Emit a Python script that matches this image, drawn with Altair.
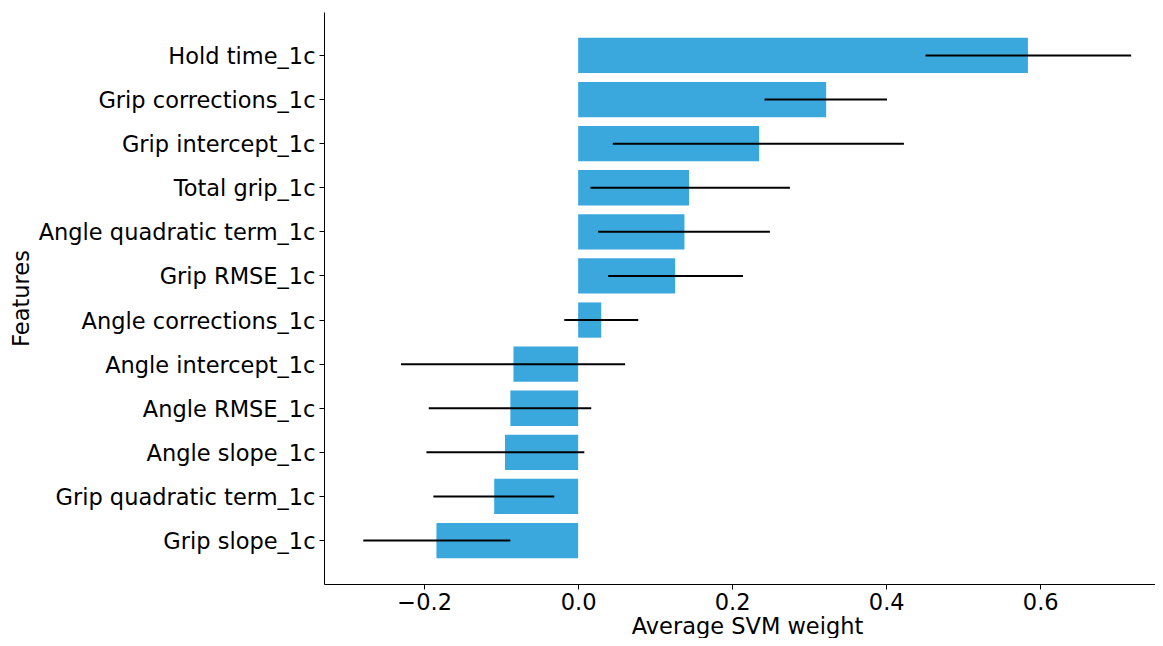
import altair as alt
import pandas as pd

features = [
    "Hold time_1c", "Grip corrections_1c", "Grip intercept_1c", "Total grip_1c",
    "Angle quadratic term_1c", "Grip RMSE_1c", "Angle corrections_1c",
    "Angle intercept_1c", "Angle RMSE_1c", "Angle slope_1c",
    "Grip quadratic term_1c", "Grip slope_1c",
]
weights = [0.584, 0.322, 0.235, 0.144, 0.138, 0.126, 0.030, -0.084, -0.088, -0.095, -0.109, -0.184]
err_low = [0.451, 0.242, 0.045, 0.016, 0.026, 0.039, -0.018, -0.230, -0.194, -0.197, -0.188, -0.279]
err_high = [0.718, 0.401, 0.423, 0.275, 0.249, 0.214, 0.078, 0.061, 0.017, 0.008, -0.031, -0.088]

df = pd.DataFrame({"feature": features, "weight": weights, "lo": err_low, "hi": err_high})

yscale = alt.Scale(domain=features, paddingInner=0.2, paddingOuter=0.585)
xscale = alt.Scale(domain=[-0.33, 0.749], nice=False, zero=False)

FS = 22.5

bars = alt.Chart(df).mark_bar(color="#3aa8dc").encode(
    y=alt.Y("feature:N", scale=yscale, sort=features, title="Features",
            axis=alt.Axis(labelFontSize=FS, titleFontSize=FS, labelFont="DejaVu Sans",
                          titleFont="DejaVu Sans", titleFontWeight="normal",
                          labelColor="black", titleColor="black",
                          domainColor="black", tickColor="black", tickSize=5,
                          labelPadding=4, labelLimit=500, labelOffset=1.5,
                          titleX=-303, titleY=286, titleAngle=270,
                          titleAlign="center", titleBaseline="middle")),
    x=alt.X("weight:Q", scale=xscale, title="Average SVM weight",
            axis=alt.Axis(values=[-0.2, 0.0, 0.2, 0.4, 0.6], format=".1f",
                          labelFontSize=FS, titleFontSize=FS, labelFont="DejaVu Sans",
                          titleFont="DejaVu Sans", titleFontWeight="normal",
                          labelColor="black", titleColor="black",
                          domainColor="black", tickColor="black", tickSize=5,
                          labelPadding=2, grid=False,
                          titleX=423, titleY=49, titleAnchor="middle",
                          titleAlign="center", titleBaseline="alphabetic")),
)

errs = alt.Chart(df).mark_rule(color="black", strokeWidth=2).encode(
    y=alt.Y("feature:N", scale=yscale, sort=features),
    x=alt.X("lo:Q", scale=xscale),
    x2="hi:Q",
)

chart = (bars + errs).properties(
    width=831, height=572,
    autosize=alt.AutoSizeParams(type="none"),
    padding={"left": 316, "top": 4, "right": 0, "bottom": 54},
).configure_view(stroke=None).configure_axis(grid=False)

chart.save("out.html", embed_options={"renderer": "svg", "actions": False})
